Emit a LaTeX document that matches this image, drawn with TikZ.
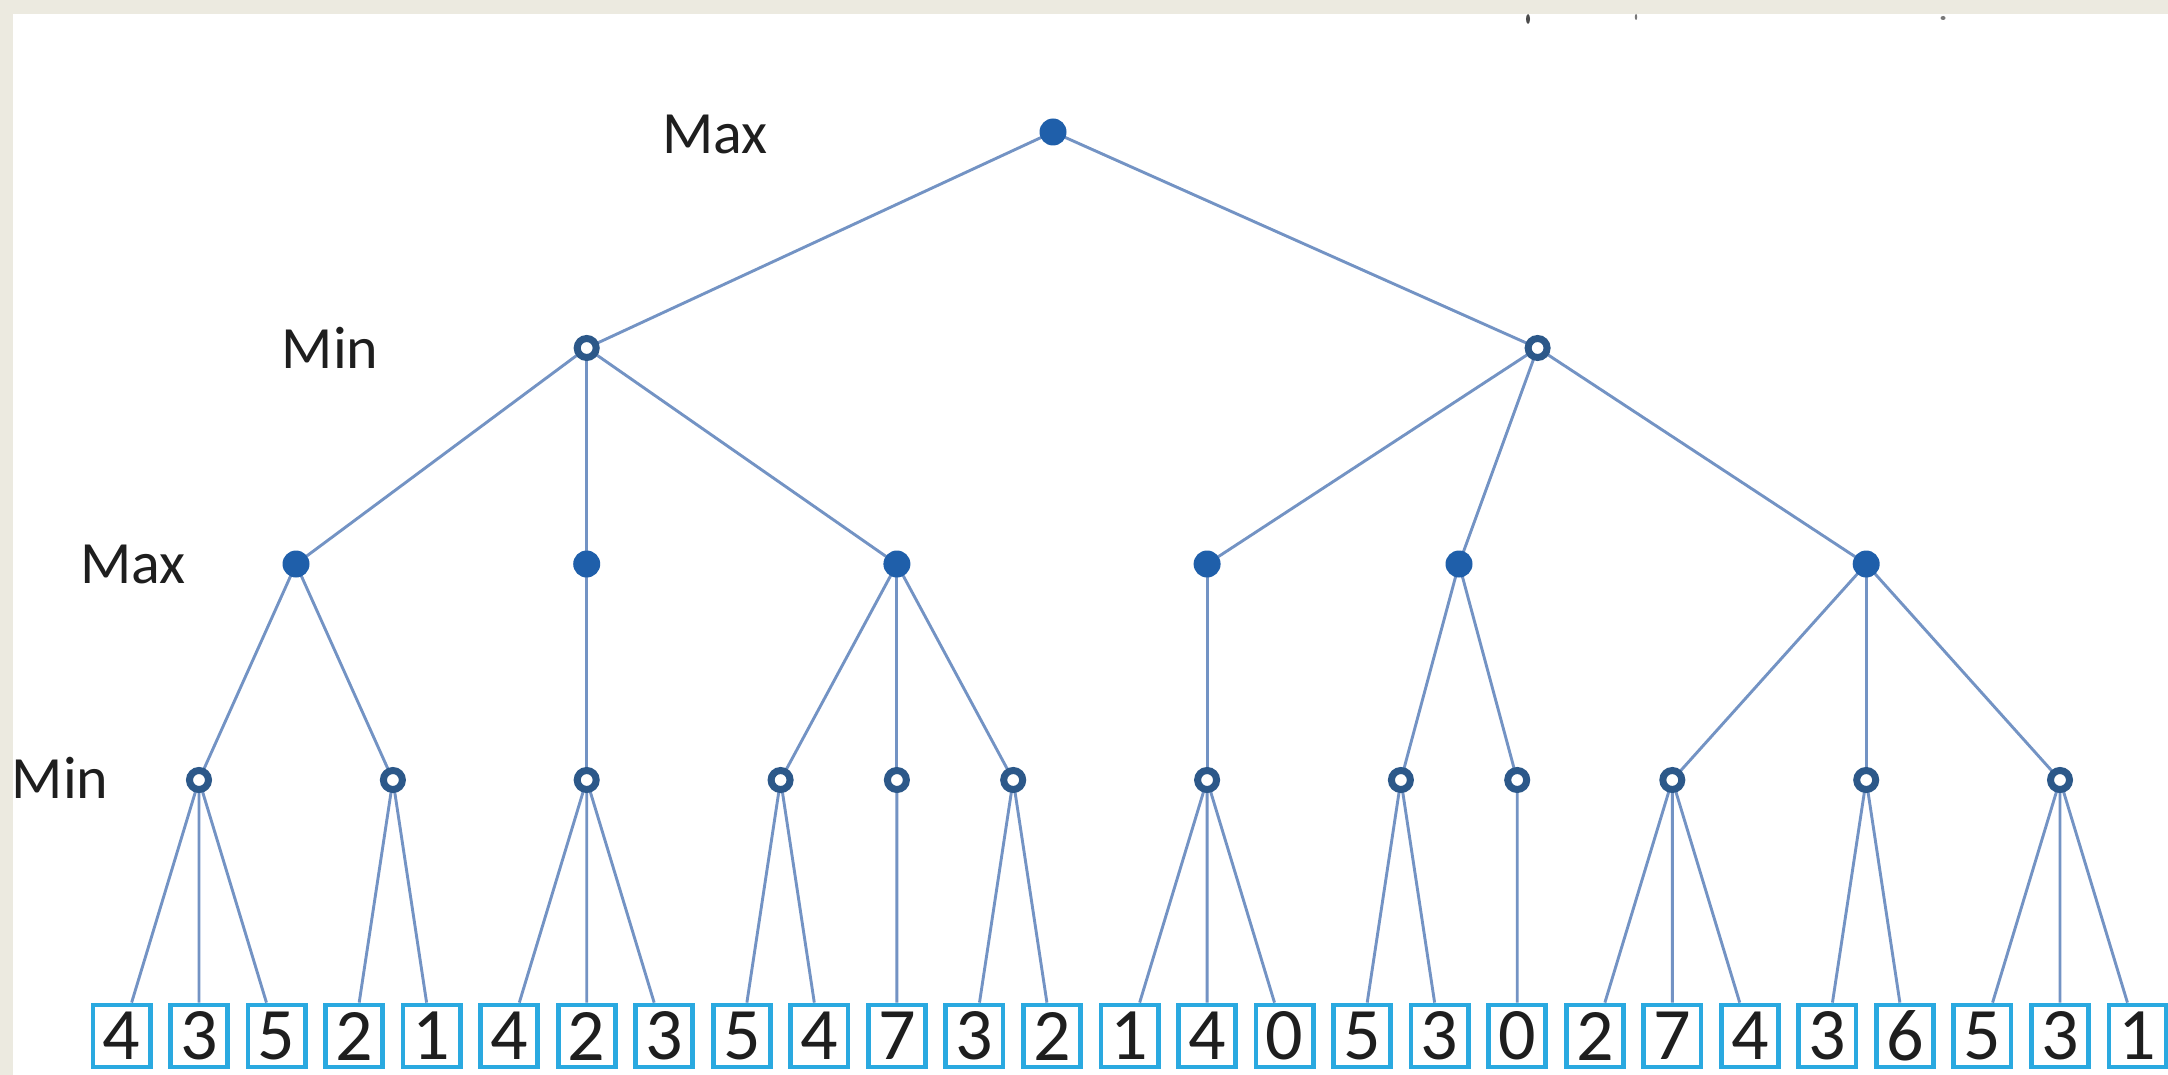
\documentclass[tikz,border=0pt]{standalone}
\usepackage{fontspec}
\setmainfont{Carlito}
\definecolor{beige}{HTML}{ECEAE0}
\definecolor{edgeblue}{HTML}{7393C4}
\definecolor{maxblue}{HTML}{1F5FAA}
\definecolor{minblue}{HTML}{2C5889}
\definecolor{leafblue}{HTML}{2AA9E0}
\definecolor{txt}{HTML}{1E1E1E}
\begin{document}
\begin{tikzpicture}[x=0.5pt,y=-0.5pt,
  maxnode/.style={circle,fill=maxblue,minimum size=13.5pt,inner sep=0pt},
  minnode/.style={circle,draw=minblue,line width=3.5pt,fill=white,minimum size=9.5pt,inner sep=0pt},
  leaf/.style={rectangle,draw=leafblue,line width=2.4pt,fill=white,minimum width=28.6pt,minimum height=31pt,inner sep=0pt,text=txt,font=\fontsize{37}{40}\selectfont},
  lvl/.style={text=txt,font=\fontsize{30}{36}\selectfont,inner sep=0pt},
  edge/.style={draw=edgeblue,line width=1.45pt}]
% background
\fill[beige] (0,0) rectangle (2168,1075);
\fill[white] (13,14) rectangle (2168,1075);
\useasboundingbox (0,0) rectangle (2168,1075);
% cropped title fragments at top edge
\fill[txt!80] (1528,19) ellipse [x radius=2,y radius=5];
\fill[txt!60] (1636,17) ellipse [x radius=1.2,y radius=3];
\fill[txt!60] (1943,18) ellipse [x radius=2.5,y radius=2];
% level labels
\node[lvl] (lab0) at (715,134) {Max};
\node[lvl] (lab1) at (330,348) {Min};
\node[lvl] (lab2) at (133,564) {Max};
\node[lvl] (lab3) at (60,778) {Min};
% leaves
\foreach \v [count=\i from 0] in {4,3,5,2,1,4,2,3,5,4,7,3,2,1,4,0,5,3,0,2,7,4,3,6,5,3,1}
  \node[leaf] (L\i) at ({121.5+77.54*\i},1036) {\v};
% coordinates of inner nodes
\coordinate (pR) at (1053,132);
\coordinate (pA) at (586.7,348);
\coordinate (pB) at (1537.6,348);
\coordinate (pC1) at (296,564);
\coordinate (pC2) at (586.7,564);
\coordinate (pC3) at (896.9,564);
\coordinate (pC4) at (1207.1,564);
\coordinate (pC5) at (1459,564);
\coordinate (pC6) at (1866.2,564);
\coordinate (pD1) at (199,780);
\coordinate (pD2) at (392.9,780);
\coordinate (pD3) at (586.7,780);
\coordinate (pD4) at (780.6,780);
\coordinate (pD5) at (896.9,780);
\coordinate (pD6) at (1013.2,780);
\coordinate (pD7) at (1207.1,780);
\coordinate (pD8) at (1400.9,780);
\coordinate (pD9) at (1517.2,780);
\coordinate (pD10) at (1672.3,780);
\coordinate (pD11) at (1866.2,780);
\coordinate (pD12) at (2060,780);
% edges (drawn first, under nodes)
\foreach \a/\b in {pR/pA,pR/pB,pA/pC1,pA/pC2,pA/pC3,pB/pC4,pB/pC5,pB/pC6,
  pC1/pD1,pC1/pD2,pC2/pD3,pC3/pD4,pC3/pD5,pC3/pD6,pC4/pD7,pC5/pD8,pC5/pD9,pC6/pD10,pC6/pD11,pC6/pD12}
  \draw[edge] (\a) -- (\b);
\foreach \d/\l in {pD1/L0,pD1/L1,pD1/L2,pD2/L3,pD2/L4,pD3/L5,pD3/L6,pD3/L7,pD4/L8,pD4/L9,pD5/L10,
  pD6/L11,pD6/L12,pD7/L13,pD7/L14,pD7/L15,pD8/L16,pD8/L17,pD9/L18,pD10/L19,pD10/L20,pD10/L21,
  pD11/L22,pD11/L23,pD12/L24,pD12/L25,pD12/L26}
  \draw[edge] (\d) -- (\l);
% nodes
\node[maxnode] (R) at (pR) {};
\node[minnode] (A) at (pA) {};
\node[minnode] (B) at (pB) {};
\foreach \k in {1,...,6} \node[maxnode] (C\k) at (pC\k) {};
\foreach \k in {1,...,12} \node[minnode] (D\k) at (pD\k) {};
\end{tikzpicture}
\end{document}
